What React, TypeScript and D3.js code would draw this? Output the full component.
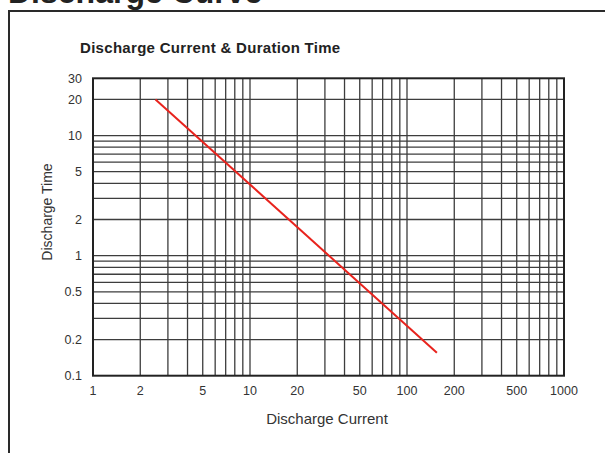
import React from "react";
import * as d3 from "d3";

const xTickValues = [1, 2, 5, 10, 20, 50, 100, 200, 500, 1000];
const yTickValues = [0.1, 0.2, 0.5, 1, 2, 5, 10, 20, 30];
const xGridValues = [2, 3, 4, 5, 6, 7, 8, 9, 10, 20, 30, 40, 50, 60, 70, 80, 90, 100, 200, 300, 400, 500, 600, 700, 800, 900];
const yGridValues = [0.2, 0.3, 0.4, 0.5, 0.6, 0.7, 0.8, 0.9, 1, 2, 3, 4, 5, 6, 7, 8, 9, 10, 20];
const dischargeCurrent = [2.5, 155];
const dischargeTime = [20, 0.155];

const W = 605;
const H = 453;
const left = 93;
const right = 564;
const top = 78.3;
const bottom = 375.7;

export default function App() {
  const x = d3.scaleLog().domain([1, 1000]).range([left, right]);
  const y = d3.scaleLog().domain([0.1, 30]).range([bottom, top]);
  const line = d3
    .line<number>()
    .x((d) => x(d))
    .y((_, i) => y(dischargeTime[i]));
  const font = "'Liberation Sans', Arial, sans-serif";
  return (
    <div style={{ position: "fixed", left: 0, top: 0 }}>
      <svg width={W} height={H} style={{ display: "block", background: "#fff" }}>
        <text
          x={8}
          y={3}
          fontFamily={font}
          fontWeight="bold"
          fontSize={32}
          fill="#222"
        >
          Discharge Curve
        </text>
        <rect x={9} y={11} width={W + 10} height={H + 10} fill="none" stroke="#2a2a2a" strokeWidth={2} />
        <text
          x={80}
          y={53}
          fontFamily={font}
          fontWeight="bold"
          fontSize={15}
          letterSpacing={0.3}
          fill="#222"
        >
          Discharge Current &amp; Duration Time
        </text>
        {xGridValues.map((v) => (
          <line key={"xg" + v} x1={x(v)} x2={x(v)} y1={top} y2={bottom} stroke="#3d3d3d" strokeWidth={1.3} />
        ))}
        {yGridValues.map((v) => (
          <line key={"yg" + v} x1={left} x2={right} y1={y(v)} y2={y(v)} stroke="#3d3d3d" strokeWidth={1.3} />
        ))}
        <rect x={left} y={top} width={right - left} height={bottom - top} fill="none" stroke="#222" strokeWidth={2} />
        <path d={line(dischargeCurrent) || ""} fill="none" stroke="#e8231d" strokeWidth={2} />
        {yTickValues.map((v) => (
          <text
            key={"yt" + v}
            x={82}
            y={y(v)}
            dy="0.35em"
            textAnchor="end"
            fontFamily={font}
            fontSize={12.5}
            fill="#333"
          >
            {v}
          </text>
        ))}
        {xTickValues.map((v) => (
          <text
            key={"xt" + v}
            x={x(v)}
            y={395}
            textAnchor="middle"
            fontFamily={font}
            fontSize={12.5}
            fill="#333"
          >
            {v}
          </text>
        ))}
        <text
          x={327}
          y={424}
          textAnchor="middle"
          fontFamily={font}
          fontSize={15}
          fill="#333"
        >
          Discharge Current
        </text>
        <text
          transform={`translate(52,212) rotate(-90)`}
          textAnchor="middle"
          fontFamily={font}
          fontSize={14}
          fill="#333"
        >
          Discharge Time
        </text>
      </svg>
    </div>
  );
}
